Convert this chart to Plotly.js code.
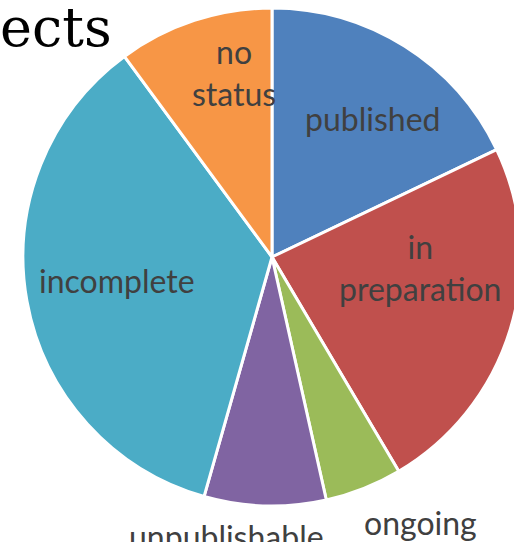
<!DOCTYPE html>
<html>
<head>
<meta charset="utf-8">
<script src="https://cdn.plot.ly/plotly-3.0.1.min.js"></script>
<style>
html, body { margin: 0; padding: 0; overflow: hidden; background: #fff; }
#chart { width: 540px; height: 542px; }
</style>
</head>
<body>
<div id="chart"></div>
<script>
// Data (percent shares)
const labels = ["published", "in preparation", "ongoing", "unpublishable", "incomplete", "no status"];
const labelTexts = ["published", "in<br>preparation", "ongoing", "unpublishable", "incomplete", "no<br>status"];
const values = [17.9, 23.6, 5.0, 7.9, 35.5, 10.1];
const colors = ["#4F81BD", "#C0504D", "#9BBB59", "#8064A2", "#4BACC6", "#F79646"];
const titleText = "ects";

// Label positions (pixels) – layout only
const W = 540, H = 542;
const labelPx = [[372, 118], [420, 267], [420, 522], [226, 536], [117, 280], [234, 73]];

const annotations = labelTexts.map((t, i) => ({
  text: t,
  xref: "paper", yref: "paper",
  x: labelPx[i][0] / W, y: (H - labelPx[i][1]) / H,
  xanchor: "center", yanchor: "middle",
  showarrow: false,
  font: { family: "Lato, 'Open Sans', sans-serif", size: 32, color: "#404040" },
  align: "center"
}));
annotations.push({
  text: titleText,
  xref: "paper", yref: "paper",
  x: -2 / W, y: (H - 28) / H,
  xanchor: "left", yanchor: "middle",
  showarrow: false,
  font: { family: "'DejaVu Serif', serif", size: 54, color: "#000000" }
});

const trace = {
  type: "pie",
  labels: labels,
  values: values,
  sort: false,
  direction: "clockwise",
  rotation: 0,
  textinfo: "none",
  hoverinfo: "skip",
  marker: { colors: colors, line: { color: "#ffffff", width: 3 } },
  domain: { x: [23 / W, 521 / W], y: [36 / H, 534 / H] },
  showlegend: false
};

const layout = {
  width: W, height: H,
  margin: { l: 0, r: 0, t: 0, b: 0 },
  paper_bgcolor: "#ffffff",
  showlegend: false,
  annotations: annotations
};

Plotly.newPlot("chart", [trace], layout, { staticPlot: true, displayModeBar: false });
</script>
</body>
</html>
